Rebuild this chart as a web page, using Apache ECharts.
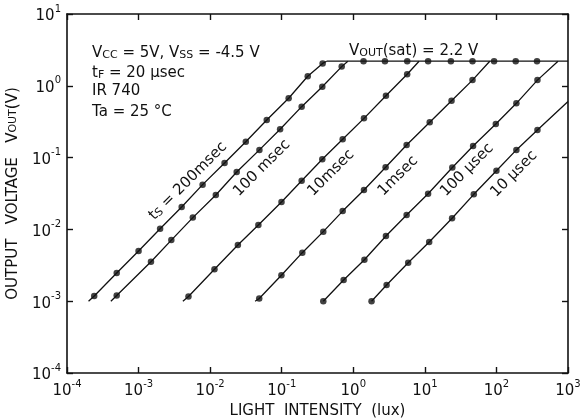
<!DOCTYPE html>
<html>
<head>
<meta charset="utf-8">
<script src="https://cdn.jsdelivr.net/npm/echarts@6/dist/echarts.min.js"></script>
<style>
  html, body { margin: 0; padding: 0; background: #fff; }
  #chart { width: 580px; height: 420px; }
</style>
</head>
<body>
<div id="chart"></div>
<script>
// measured dots: light intensity (lux) / output voltage (V), one pair per storage time
var lux200ms  = [2.4e-4, 4.95e-4, 1.0e-3, 2.0e-3, 4.0e-3, 7.85e-3, 1.59e-2, 3.15e-2, 6.18e-2, 0.125, 0.231, 0.373];
var vout200ms = [1.18e-3, 2.47e-3, 5.0e-3, 1.02e-2, 2.05e-2, 4.2e-2, 8.4e-2, 0.166, 0.334, 0.67, 1.36, 2.05];

var lux100ms  = [4.95e-4, 1.49e-3, 2.87e-3, 5.73e-3, 1.2e-2, 2.35e-2, 4.88e-2, 9.5e-2, 0.19, 0.369, 0.689];
var vout100ms = [1.2e-3, 3.55e-3, 7.1e-3, 1.46e-2, 3.01e-2, 6.3e-2, 0.128, 0.248, 0.512, 0.97, 1.85];

var lux10ms  = [4.98e-3, 1.15e-2, 2.44e-2, 4.72e-2, 9.93e-2, 0.19, 0.369, 0.711, 1.41, 2.86, 5.66];
var vout10ms = [1.16e-3, 2.78e-3, 6.07e-3, 1.15e-2, 2.41e-2, 4.77e-2, 9.47e-2, 0.18, 0.352, 0.728, 1.45];

var lux1ms  = [4.85e-2, 9.9e-2, 0.194, 0.381, 0.711, 1.41, 2.83, 5.56, 11.7, 23.6, 46.3];
var vout1ms = [1.09e-3, 2.3e-3, 4.74e-3, 9.3e-3, 1.8e-2, 3.54e-2, 7.33e-2, 0.15, 0.31, 0.62, 1.2];

var lux100us  = [0.381, 0.733, 1.43, 2.86, 5.56, 11.1, 24.2, 47.2, 98, 190, 374];
var vout100us = [1.0e-3, 1.97e-3, 3.78e-3, 8.1e-3, 1.59e-2, 3.14e-2, 7.28e-2, 0.145, 0.294, 0.57, 1.2];

var lux10us  = [1.80, 2.92, 5.85, 11.5, 24.0, 48.3, 100, 190, 374];
var vout10us = [1.0e-3, 1.68e-3, 3.44e-3, 6.68e-3, 1.43e-2, 3.08e-2, 6.57e-2, 0.128, 0.242];

// where each drawn line starts and ends (same order as above)
var lineStartLux  = [2.0e-4, 4.1e-4, 4.16e-3, 4.25e-2, 0.381, 1.80];
var lineStartVout = [1e-3, 1e-3, 1e-3, 1e-3, 1e-3, 1e-3];
var lineEndLux    = [0.425, 0.84, 8.3, 80.7, 725, 1000];
var lineEndVout   = [2.2, 2.2, 2.2, 2.2, 2.2, 0.604];

// saturation level Vout(sat)
var satVout = 2.2;
var satLineLux = [0.425, 1000];
var satDotLux = [1.39, 2.77, 5.67, 11.1, 23.1, 46.3, 92.7, 186, 369];

var curveNames = ['200msec', '100msec', '10msec', '1msec', '100usec', '10usec'];
var curveLux = [lux200ms, lux100ms, lux10ms, lux1ms, lux100us, lux10us];
var curveVout = [vout200ms, vout100ms, vout10ms, vout1ms, vout100us, vout10us];

var FONT = 'DejaVu Sans';
var INK = '#111';

function pairs(xs, ys) {
  return xs.map(function (x, i) { return [x, ys[i]]; });
}

var series = [];
curveNames.forEach(function (name, i) {
  var dots = pairs(curveLux[i], curveVout[i]);
  series.push({
    name: name + ' line',
    type: 'line',
    symbol: 'none',
    silent: true,
    z: 2,
    lineStyle: { color: INK, width: 1.3 },
    data: [[lineStartLux[i], lineStartVout[i]]].concat(dots).concat([[lineEndLux[i], lineEndVout[i]]])
  });
  series.push({
    name: name,
    type: 'scatter',
    symbol: 'circle',
    symbolSize: 6.5,
    z: 3,
    itemStyle: { color: INK },
    data: dots
  });
});
series.push({
  name: 'sat line',
  type: 'line',
  symbol: 'none',
  z: 2,
  lineStyle: { color: INK, width: 1.3 },
  data: satLineLux.map(function (x) { return [x, satVout]; })
});
series.push({
  name: 'sat',
  type: 'scatter',
  symbolSize: 6.5,
  z: 3,
  itemStyle: { color: INK },
  data: satDotLux.map(function (x) { return [x, satVout]; })
});

function powLabel(v) {
  var e = Math.round(Math.log(v) / Math.LN10);
  return '{b|10}{s|' + e + '}';
}
var powRich = {
  b: { fontFamily: FONT, fontSize: 15, color: INK, lineHeight: 20, verticalAlign: 'bottom' },
  s: { fontFamily: FONT, fontSize: 10, color: INK, lineHeight: 12, verticalAlign: 'top' }
};

function logAxis(pos, min, max, split, showLabel) {
  return {
    type: 'log',
    logBase: 10,
    position: pos,
    min: min,
    max: max,
    splitNumber: split,
    axisLine: { show: true, lineStyle: { color: INK, width: 1.6 } },
    axisTick: { show: true, inside: true, length: 6, lineStyle: { color: INK, width: 1.4 } },
    minorTick: { show: false },
    splitLine: { show: false },
    minorSplitLine: { show: false },
    axisLabel: showLabel ? { show: true, formatter: powLabel, rich: powRich, margin: 6 } : { show: false }
  };
}

var xMain = logAxis('bottom', 1e-4, 1e3, 7, true);
xMain.name = 'LIGHT  INTENSITY  (lux)';
xMain.nameLocation = 'middle';
xMain.nameGap = 30;
xMain.nameTextStyle = { fontFamily: FONT, fontSize: 15, color: INK };

var yMain = logAxis('left', 1e-4, 1e1, 5, true);
yMain.name = 'OUTPUT   VOLTAGE   V{s|OUT}(V)';
yMain.nameLocation = 'middle';
yMain.nameRotate = 90;
yMain.nameGap = 44;
yMain.nameTextStyle = {
  fontFamily: FONT, fontSize: 15, color: INK,
  rich: { s: { fontFamily: FONT, fontSize: 11, color: INK } }
};

var chart = echarts.init(document.getElementById('chart'), null, { renderer: 'canvas' });

function note(x, y, text, extra) {
  return {
    type: 'text', x: x, y: y, z: 10, silent: true,
    style: Object.assign({
      text: text,
      fontFamily: FONT, fontSize: 15, fill: INK,
      rich: { s: { fontFamily: FONT, fontSize: 11, fill: INK, verticalAlign: 'bottom', lineHeight: 15 },
              n: { fontFamily: FONT, fontSize: 15, fill: INK, verticalAlign: 'bottom', lineHeight: 18 } }
    }, extra || {})
  };
}
function slanted(x, y, text) {
  var t = note(x, y, text, { align: 'center', verticalAlign: 'middle' });
  t.rotation = Math.PI / 4;
  return t;
}

chart.setOption({
  animation: false,
  backgroundColor: '#fff',
  grid: { left: 67, right: 12, top: 14, bottom: 47, outerBoundsMode: 'none', containLabel: false },
  xAxis: [xMain, logAxis('top', 1e-4, 1e3, 7, false)],
  yAxis: [yMain, logAxis('right', 1e-4, 1e1, 5, false)],
  series: series,
  graphic: [
    note(92, 43, '{n|V}{s|CC}{n| = 5V, V}{s|SS}{n| = -4.5 V}'),
    note(92, 63, '{n|t}{s|F}{n| = 20 \u00b5sec}'),
    note(92, 84, 'IR 740'),
    note(92, 105, 'Ta = 25 \u00b0C'),
    note(349, 41, '{n|V}{s|OUT}{n|(sat) = 2.2 V}'),
    slanted(187, 180, '{n|t}{s|S}{n| = 200msec}'),
    slanted(262, 168, '100 msec'),
    slanted(331, 173, '10msec'),
    slanted(398, 176, '1msec'),
    slanted(467, 170, '100 \u00b5sec'),
    slanted(514, 174, '10 \u00b5sec')
  ]
});
</script>
</body>
</html>
